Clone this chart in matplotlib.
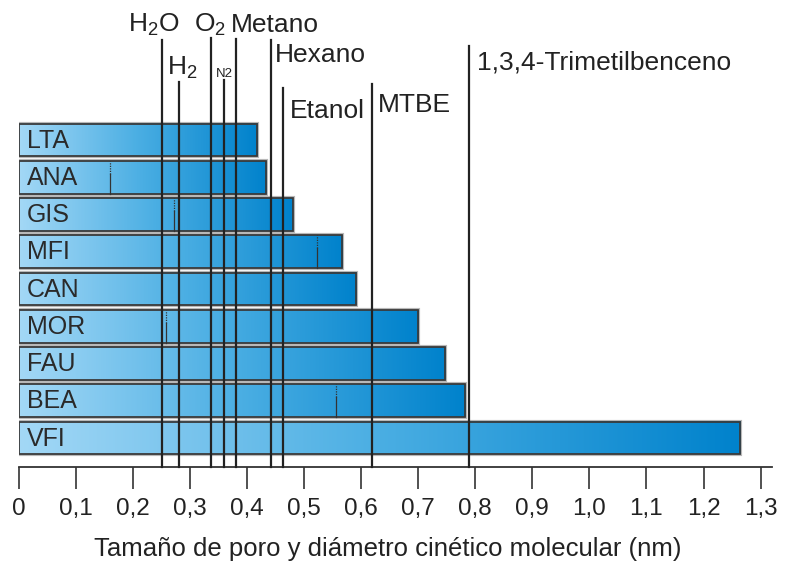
import numpy as np
import matplotlib
matplotlib.use("Agg")
import matplotlib.pyplot as plt
from matplotlib.colors import LinearSegmentedColormap
from matplotlib.patches import Rectangle

plt.rcParams['font.family'] = ['Liberation Sans', 'DejaVu Sans']
plt.rcParams['mathtext.fontset'] = 'custom'
plt.rcParams['mathtext.rm'] = 'Liberation Sans'
plt.rcParams['mathtext.it'] = 'Liberation Sans'

# ---- data ----
zeolites = ['LTA', 'ANA', 'GIS', 'MFI', 'CAN', 'MOR', 'FAU', 'BEA', 'VFI']
pore_size = [0.418, 0.433, 0.480, 0.567, 0.591, 0.699, 0.747, 0.782, 1.264]
second_pore = [None, 0.161, 0.272, 0.523, None, 0.258, None, 0.557, None]

molecules = ['H$_2$O', 'H$_2$', 'O$_2$', 'N2', 'Metano', 'Hexano', 'Etanol', 'MTBE',
             '1,3,4-Trimetilbenceno']
kinetic_diam = [0.251, 0.282, 0.338, 0.360, 0.381, 0.442, 0.463, 0.619, 0.789]

xticks = [0, 0.1, 0.2, 0.3, 0.4, 0.5, 0.6, 0.7, 0.8, 0.9, 1.0, 1.1, 1.2, 1.3]
xtick_labels = ['0', '0,1', '0,2', '0,3', '0,4', '0,5', '0,6', '0,7', '0,8', '0,9',
                '1,0', '1,1', '1,2', '1,3']
xlabel = 'Tamaño de poro y diámetro cinético molecular (nm)'

# ---- layout (styles / positions) ----
line_tops = [-2.685, -1.557, -2.738, -1.611, -2.711, -2.685, -1.396, -1.503, -2.523]
label_y = [-2.90, -1.745, -2.90, -1.69, -2.90, -2.094, -0.59, -0.75, -1.88]
label_dx = [-6, 2, -1, 0, -4, 3, 5, 4, 6]   # points
label_ha = ['center', 'center', 'center', 'center', 'left', 'left', 'left', 'left', 'left']
label_fs = [19, 19, 19, 9.5, 19, 19, 19, 19, 19]

W, H = 785, 563
fig = plt.figure(figsize=(W / 100, H / 100), dpi=100)
ax_left = 18.5 / W
ax_w = (772 - 18.5) / W
ax_bottom = (H - 466.5) / H
ax_h = 466.5 / H
ax = fig.add_axes([ax_left, ax_bottom, ax_w, ax_h])
ax.set_xlim(0, 1.32)
ax.set_ylim(8.765, -3.758)

cmap = LinearSegmentedColormap.from_list('bl', ['#a3d8f6', '#4aaee3', '#0082cc'])
grad = np.linspace(0, 1, 256).reshape(1, -1)
bh = 0.88

for i, (name, v) in enumerate(zip(zeolites, pore_size)):
    y0, y1 = i - bh / 2, i + bh / 2
    # shadow
    ax.add_patch(Rectangle((0, y0), v, bh, fill=False, edgecolor='#b8b8b8',
                           linewidth=3.0, zorder=1))
    ax.imshow(grad, extent=[0, v, y1, y0], cmap=cmap, aspect='auto', zorder=2,
              interpolation='bilinear')
    ax.add_patch(Rectangle((0, y0), v, bh, fill=False, edgecolor='#3a3a3a',
                           linewidth=1.3, zorder=3))
    ax.text(0.015, i + 0.02, name, fontsize=18, va='center', ha='left', color='#2a2a2a',
            zorder=4)
    sp = second_pore[i]
    if sp is not None:
        ax.plot([sp, sp], [y1, i - 0.1], color='#333333', lw=0.9, zorder=3)
        ax.plot([sp, sp], [i - 0.1, y0], color='#333333', lw=0.9, ls=(0, (1, 1)),
                zorder=3)

for m, d, top, ly, dx, ha, fs in zip(molecules, kinetic_diam, line_tops, label_y,
                                      label_dx, label_ha, label_fs):
    ax.plot([d, d], [8.765, top], color='#222222', lw=1.6, zorder=5, clip_on=False)
    ax.annotate(m, xy=(d, ly), xytext=(dx, 0), textcoords='offset points',
                ha=ha, va='baseline', fontsize=fs, color='#222222',
                annotation_clip=False)

for s in ['top', 'right', 'left']:
    ax.spines[s].set_visible(False)
ax.spines['bottom'].set_color('#333333')
ax.spines['bottom'].set_linewidth(1.3)
ax.set_yticks([])
ax.set_xticks(xticks)
ax.set_xticklabels(xtick_labels, fontsize=17.5, color='#222222')
ax.tick_params(axis='x', direction='out', length=16, width=1.2, colors='#333333',
               pad=7, labelcolor='#222222')
fig.text(0.5 * (85 + 690) / W, 1 - 556 / H, xlabel, ha='center', va='baseline',
         fontsize=18.5, color='#222222')

fig.savefig('out.png', dpi=100)
